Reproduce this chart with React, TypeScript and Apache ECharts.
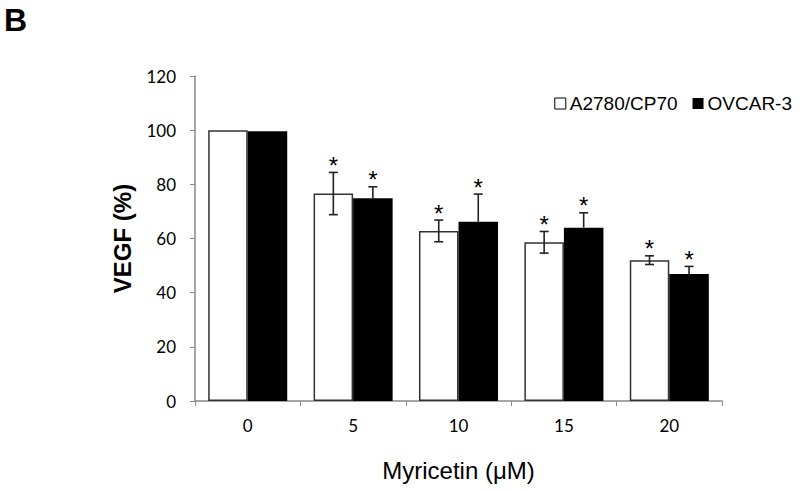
import React, { useEffect, useRef } from "react";
import * as echarts from "echarts";

const categories = ["0", "5", "10", "15", "20"];
const seriesNames = ["A2780/CP70", "OVCAR-3"];
const cp70Values = [100, 76.6, 62.8, 58.6, 52.0];
const cp70Errors = [0, 7.8, 4.0, 4.0, 1.6];
const ovcarValues = [99.6, 74.9, 66.2, 64.0, 46.9];
const ovcarErrors = [0.3, 4.2, 10.2, 5.5, 2.8];
const cp70Significant = [false, true, true, true, true];
const ovcarSignificant = [false, true, true, true, true];
const yTicks = { min: 0, max: 120, interval: 20 };

const BAR_FRAC = 0.375;

function makeErrorSeries(
  values: number[],
  errors: number[],
  sig: boolean[],
  side: number,
  color: string,
  drawLower: boolean
) {
  const data = values.map((v, i) => [i, v, errors[i], sig[i] ? 1 : 0]);
  return {
    type: "custom",
    silent: true,
    z: 10,
    data,
    renderItem: (params: any, api: any) => {
      const idx = api.value(0);
      const val = api.value(1);
      const err = api.value(2);
      const isSig = api.value(3);
      const center = api.coord([idx, val]);
      const band = api.size([1, 0])[0];
      const x = center[0] + side * band * BAR_FRAC * 0.5;
      const top = api.coord([idx, val + err])[1];
      const bot = drawLower ? api.coord([idx, val - err])[1] : center[1];
      const cap = 4.5;
      const children: any[] = [];
      if (err > 0.5) {
        const lineStyle = { stroke: color, lineWidth: 1.6 };
        children.push({ type: "line", shape: { x1: x, y1: top, x2: x, y2: bot }, style: lineStyle });
        children.push({ type: "line", shape: { x1: x - cap, y1: top, x2: x + cap, y2: top }, style: lineStyle });
        if (drawLower) {
          children.push({ type: "line", shape: { x1: x - cap, y1: bot, x2: x + cap, y2: bot }, style: lineStyle });
        }
      }
      if (isSig) {
        children.push({
          type: "text",
          style: {
            text: "*",
            x: x,
            y: top + 5,
            textAlign: "center",
            textVerticalAlign: "bottom",
            fill: "#000",
            font: "24px 'Liberation Sans', Arial, sans-serif",
          },
        });
      }
      return { type: "group", children };
    },
  };
}

export default function App() {
  const ref = useRef<HTMLDivElement>(null);
  useEffect(() => {
    if (!ref.current) return;
    const chart = echarts.init(ref.current, undefined, { renderer: "svg" });
    const labelFont = "'Lato', 'Open Sans', sans-serif";
    chart.setOption({
      animation: false,
      backgroundColor: "#fff",
      grid: { left: 195, right: 78, top: 76, bottom: 91, containLabel: false },
      legend: {
        data: [
          { name: seriesNames[0], itemStyle: { color: "#fff", borderColor: "#000", borderWidth: 1 } },
          { name: seriesNames[1], itemStyle: { color: "#000" } },
        ],
        icon: "rect",
        itemWidth: 11,
        itemHeight: 11,
        itemGap: 15,
        right: 3,
        top: 89,
        textStyle: {
          fontFamily: "'Liberation Sans', Arial, sans-serif",
          fontSize: 19,
          color: "#000",
          padding: [0, 0, 0, -1],
        },
      },
      graphic: [
        {
          type: "text",
          left: 4,
          top: 4,
          style: {
            text: "B",
            font: "bold 32px 'Liberation Sans', Arial, sans-serif",
            fill: "#000",
          },
        },
      ],
      xAxis: {
        type: "category",
        data: categories,
        name: "Myricetin (μM)",
        nameLocation: "middle",
        nameGap: 57,
        nameTextStyle: {
          fontFamily: "'Liberation Sans', Arial, sans-serif",
          fontSize: 24,
          color: "#000",
        },
        axisLine: { lineStyle: { color: "#888", width: 1.5 } },
        axisTick: { show: true, length: 5, lineStyle: { color: "#888" } },
        axisLabel: { margin: 16, fontFamily: labelFont, fontSize: 17, color: "#000" },
      },
      yAxis: {
        type: "value",
        min: yTicks.min,
        max: yTicks.max,
        interval: yTicks.interval,
        name: "VEGF (%)",
        nameLocation: "middle",
        nameGap: 61,
        nameRotate: 90,
        nameTextStyle: {
          fontFamily: "'Liberation Sans', Arial, sans-serif",
          fontSize: 24,
          fontWeight: "bold",
          color: "#000",
        },
        axisLine: { show: true, lineStyle: { color: "#888", width: 1.5 } },
        axisTick: { show: true, length: 5, lineStyle: { color: "#888" } },
        axisLabel: { margin: 19, fontFamily: labelFont, fontSize: 17, color: "#000" },
        splitLine: { show: false },
      },
      series: [
        {
          name: seriesNames[0],
          type: "bar",
          data: cp70Values,
          barGap: "0%",
          barCategoryGap: "25%",
          itemStyle: { color: "#fff", borderColor: "#333", borderWidth: 1.5 },
        },
        {
          name: seriesNames[1],
          type: "bar",
          data: ovcarValues,
          barGap: "0%",
          barCategoryGap: "25%",
          itemStyle: { color: "#000" },
        },
        makeErrorSeries(cp70Values, cp70Errors, cp70Significant, -1, "#222", true),
        makeErrorSeries(ovcarValues, ovcarErrors, ovcarSignificant, 1, "#222", false),
      ],
    });
    return () => chart.dispose();
  }, []);
  return (
    <div
      ref={ref}
      style={{ position: "fixed", left: 0, top: 0, width: 800, height: 492 }}
    />
  );
}
